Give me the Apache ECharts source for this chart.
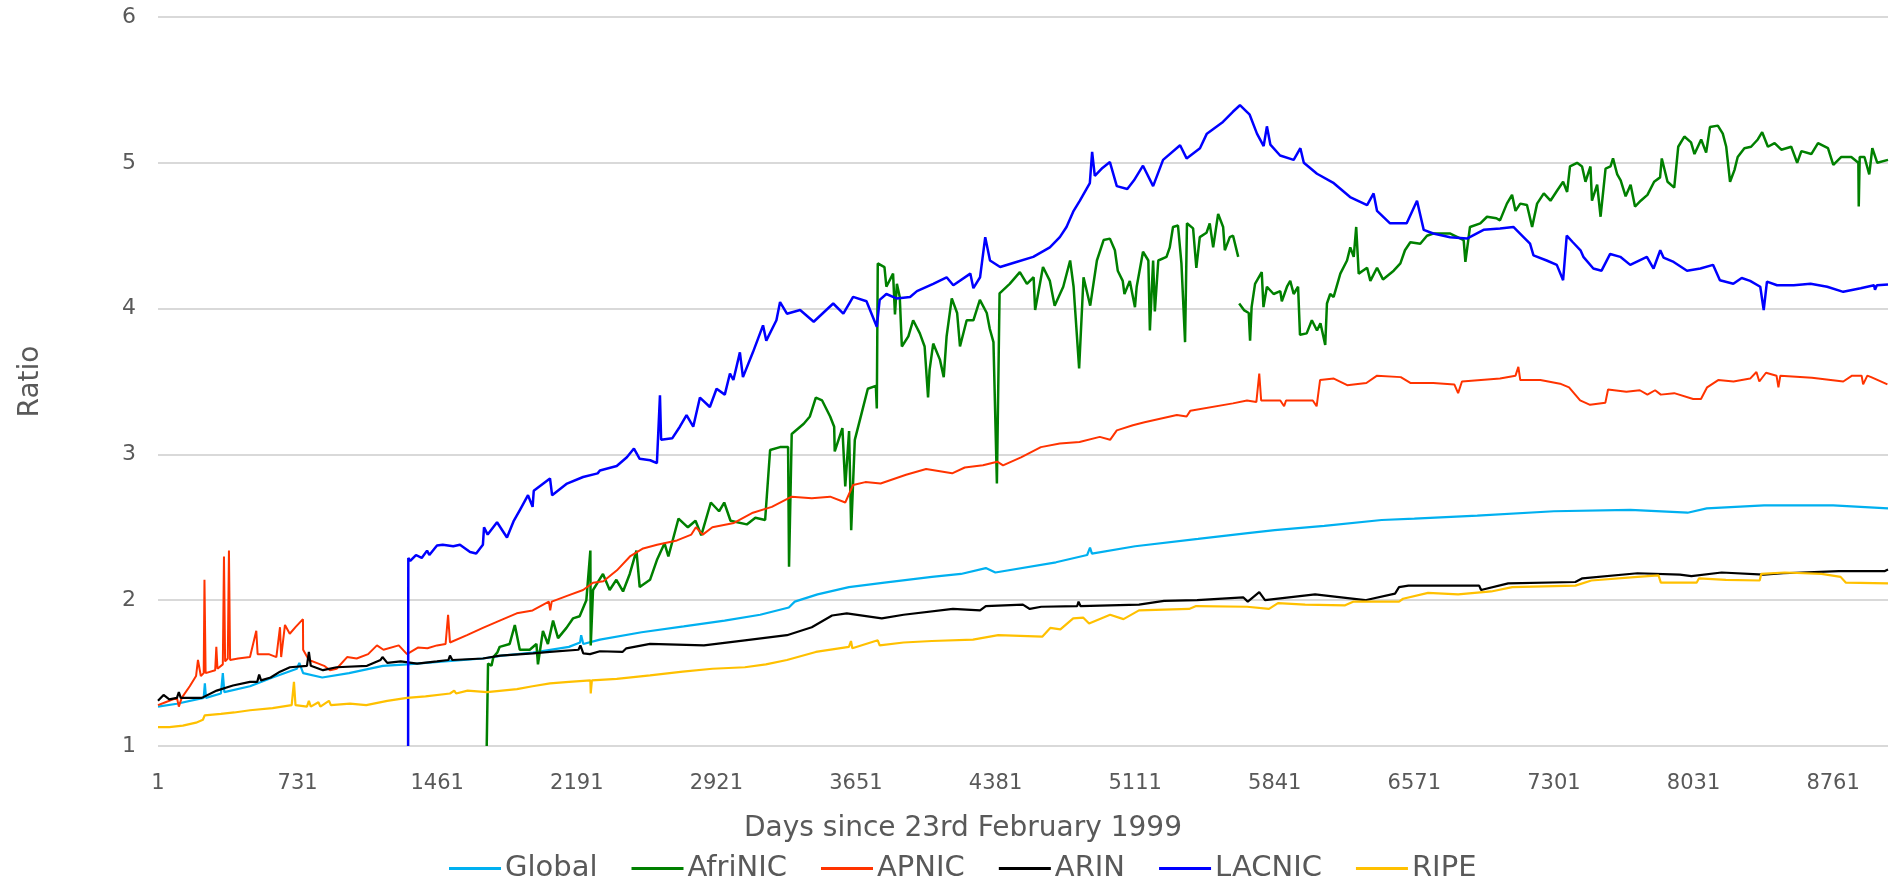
<!DOCTYPE html>
<html>
<head>
<meta charset="utf-8">
<script src="https://cdn.jsdelivr.net/npm/echarts@6/dist/echarts.min.js"></script>
<style>
  html, body { margin: 0; padding: 0; background: #fff; }
  #chart { width: 1895px; height: 888px; }
</style>
</head>
<body>
<div id="chart"></div>
<script>
// x ticks: every 730 days
const dayTicks = [1, 731, 1461, 2191, 2921, 3651, 4381, 5111, 5841, 6571, 7301, 8031, 8761]
const lastDay = 9048

// [day, ratio]
const globalData = [[1,1.27],[100,1.29],[240,1.33],[246,1.43],[252,1.33],[330,1.36],[340,1.50],[348,1.37],[482,1.41],[600,1.47],[727,1.53],[740,1.57],[760,1.50],[860,1.47],[1000,1.50],[1177,1.55],[1303,1.56],[1500,1.58],[1700,1.60],[1800,1.62],[1962,1.64],[2150,1.68],[2208,1.71],[2214,1.76],[2225,1.70],[2312,1.73],[2530,1.78],[2750,1.82],[2964,1.86],[3150,1.90],[3300,1.95],[3331,1.99],[3450,2.04],[3614,2.09],[3800,2.12],[4048,2.16],[4200,2.18],[4330,2.22],[4380,2.19],[4697,2.26],[4860,2.31],[4875,2.36],[4885,2.32],[5111,2.37],[5440,2.42],[5700,2.46],[5841,2.48],[6100,2.51],[6400,2.55],[6571,2.56],[6900,2.58],[7301,2.61],[7700,2.62],[8000,2.60],[8100,2.63],[8400,2.65],[8761,2.65],[9048,2.63]]

const afrinicData = [[1720,1.0],[1727,1.565],[1745,1.55],[1755,1.61],[1775,1.64],[1788,1.68],[1840,1.70],[1867,1.83],[1893,1.66],[1945,1.66],[1980,1.70],[1988,1.56],[2014,1.79],[2040,1.70],[2067,1.86],[2093,1.74],[2137,1.81],[2171,1.875],[2206,1.89],[2241,2.0],[2262,2.34],[2264,1.69],[2276,2.07],[2328,2.18],[2363,2.07],[2398,2.14],[2433,2.06],[2468,2.18],[2503,2.34],[2520,2.09],[2574,2.14],[2610,2.275],[2650,2.39],[2670,2.30],[2723,2.56],[2772,2.50],[2812,2.545],[2842,2.445],[2892,2.67],[2935,2.61],[2962,2.67],[2995,2.545],[3080,2.52],[3125,2.565],[3176,2.55],[3202,3.03],[3254,3.05],[3296,3.05],[3301,2.23],[3315,3.14],[3378,3.21],[3410,3.26],[3441,3.39],[3474,3.37],[3516,3.26],[3537,3.19],[3540,3.02],[3580,3.18],[3595,2.78],[3615,3.16],[3626,2.48],[3645,3.10],[3680,3.28],[3713,3.45],[3755,3.47],[3760,3.315],[3765,4.31],[3800,4.285],[3810,4.15],[3845,4.24],[3855,3.96],[3865,4.17],[3880,4.08],[3891,3.74],[3925,3.81],[3950,3.92],[3985,3.83],[4010,3.74],[4028,3.39],[4036,3.58],[4055,3.76],[4090,3.65],[4110,3.53],[4125,3.81],[4152,4.07],[4180,3.97],[4195,3.74],[4230,3.92],[4265,3.92],[4299,4.06],[4335,3.97],[4351,3.86],[4370,3.77],[4388,2.80],[4402,4.105],[4455,4.17],[4508,4.25],[4545,4.17],[4580,4.215],[4588,3.99],[4629,4.285],[4665,4.19],[4690,4.02],[4735,4.15],[4771,4.33],[4789,4.15],[4818,3.59],[4841,4.215],[4876,4.02],[4911,4.33],[4946,4.47],[4979,4.48],[5005,4.40],[5020,4.26],[5046,4.19],[5055,4.10],[5083,4.19],[5110,4.01],[5119,4.15],[5152,4.39],[5180,4.33],[5188,3.85],[5205,4.33],[5214,3.98],[5232,4.33],[5275,4.355],[5292,4.42],[5309,4.56],[5335,4.57],[5353,4.31],[5372,3.77],[5382,4.585],[5414,4.55],[5431,4.28],[5449,4.49],[5484,4.52],[5501,4.585],[5519,4.42],[5545,4.65],[5571,4.56],[5580,4.40],[5606,4.49],[5623,4.50],[5650,4.355],[5652,null],[5655,4.035],[5680,3.99],[5705,3.97],[5712,3.78],[5720,4.01],[5738,4.17],[5773,4.25],[5782,4.01],[5800,4.15],[5835,4.10],[5870,4.12],[5878,4.05],[5905,4.15],[5922,4.19],[5940,4.10],[5963,4.15],[5973,3.82],[6008,3.83],[6035,3.92],[6062,3.85],[6080,3.90],[6105,3.75],[6114,4.035],[6131,4.10],[6149,4.08],[6184,4.24],[6219,4.33],[6236,4.42],[6254,4.355],[6267,4.56],[6280,4.24],[6324,4.28],[6341,4.19],[6376,4.28],[6407,4.20],[6463,4.26],[6498,4.31],[6522,4.40],[6550,4.455],[6602,4.445],[6637,4.50],[6670,4.515],[6759,4.515],[6829,4.47],[6838,4.32],[6862,4.56],[6916,4.585],[6951,4.63],[7000,4.62],[7019,4.605],[7055,4.72],[7082,4.78],[7100,4.67],[7125,4.72],[7160,4.71],[7187,4.56],[7213,4.72],[7248,4.79],[7283,4.74],[7318,4.81],[7349,4.87],[7370,4.80],[7385,4.975],[7422,5.0],[7448,4.975],[7466,4.87],[7492,4.975],[7500,4.74],[7527,4.85],[7545,4.63],[7571,4.96],[7597,4.975],[7610,5.03],[7632,4.92],[7650,4.88],[7676,4.77],[7702,4.85],[7725,4.70],[7755,4.74],[7790,4.78],[7825,4.87],[7856,4.90],[7865,5.03],[7895,4.87],[7930,4.83],[7951,5.11],[7983,5.18],[8018,5.14],[8036,5.06],[8071,5.16],[8097,5.07],[8117,5.245],[8158,5.255],[8184,5.20],[8202,5.11],[8222,4.87],[8245,4.95],[8262,5.04],[8297,5.10],[8332,5.11],[8367,5.16],[8390,5.21],[8420,5.11],[8455,5.135],[8490,5.09],[8542,5.11],[8573,5.0],[8595,5.08],[8647,5.06],[8682,5.135],[8734,5.10],[8762,4.985],[8804,5.04],[8856,5.04],[8893,5.0],[8895,4.70],[8900,5.04],[8925,5.04],[8950,4.92],[8966,5.10],[8992,5.0],[9048,5.02]]

const apnicData = [[1,1.28],[40,1.30],[100,1.33],[110,1.27],[125,1.33],[167,1.41],[200,1.48],[210,1.59],[225,1.48],[240,1.50],[244,2.14],[250,1.50],[300,1.52],[306,1.68],[312,1.53],[340,1.56],[346,2.30],[352,1.58],[366,1.60],[372,2.34],[378,1.59],[420,1.60],[482,1.61],[515,1.79],[522,1.63],[580,1.63],[620,1.61],[639,1.815],[645,1.61],[665,1.83],[690,1.77],[720,1.815],[759,1.87],[760,1.66],[790,1.59],[830,1.57],[870,1.55],[900,1.52],[935,1.53],[990,1.61],[1040,1.60],[1100,1.63],[1146,1.69],[1180,1.66],[1260,1.69],[1303,1.63],[1360,1.675],[1410,1.67],[1460,1.69],[1505,1.70],[1518,1.90],[1528,1.71],[1617,1.76],[1700,1.81],[1788,1.86],[1877,1.91],[1960,1.93],[2045,1.99],[2052,1.93],[2060,1.99],[2140,2.03],[2224,2.07],[2276,2.12],[2330,2.13],[2401,2.205],[2469,2.30],[2538,2.355],[2611,2.38],[2715,2.41],[2790,2.45],[2814,2.50],[2850,2.45],[2900,2.50],[3013,2.53],[3112,2.60],[3211,2.64],[3315,2.71],[3420,2.70],[3516,2.71],[3595,2.67],[3636,2.79],[3700,2.81],[3780,2.80],[3913,2.86],[4018,2.90],[4154,2.87],[4220,2.91],[4315,2.925],[4390,2.95],[4420,2.925],[4514,2.98],[4618,3.05],[4717,3.075],[4820,3.085],[4926,3.12],[4980,3.10],[5015,3.165],[5099,3.20],[5160,3.22],[5329,3.27],[5380,3.26],[5400,3.30],[5622,3.35],[5696,3.37],[5745,3.36],[5760,3.555],[5770,3.37],[5870,3.37],[5890,3.33],[5900,3.37],[6040,3.37],[6060,3.33],[6078,3.51],[6150,3.52],[6220,3.475],[6320,3.49],[6376,3.54],[6500,3.53],[6550,3.49],[6670,3.49],[6780,3.48],[6800,3.42],[6820,3.50],[7019,3.52],[7100,3.54],[7115,3.60],[7125,3.51],[7230,3.51],[7333,3.485],[7380,3.46],[7438,3.37],[7490,3.34],[7570,3.355],[7584,3.445],[7680,3.43],[7750,3.44],[7790,3.41],[7830,3.44],[7860,3.41],[7930,3.42],[8029,3.38],[8070,3.38],[8102,3.46],[8160,3.51],[8240,3.50],[8327,3.52],[8360,3.565],[8375,3.50],[8410,3.56],[8465,3.54],[8475,3.46],[8485,3.54],[8650,3.525],[8814,3.50],[8860,3.54],[8910,3.54],[8918,3.48],[8940,3.54],[8960,3.53],[9045,3.48]]

const arinData = [[1,1.31],[30,1.35],[60,1.32],[100,1.33],[110,1.37],[120,1.33],[230,1.33],[308,1.38],[393,1.415],[482,1.44],[520,1.44],[530,1.49],[540,1.45],[590,1.47],[639,1.51],[691,1.54],[780,1.55],[790,1.645],[800,1.55],[864,1.52],[935,1.54],[1094,1.55],[1165,1.59],[1175,1.61],[1200,1.57],[1270,1.58],[1356,1.565],[1460,1.58],[1520,1.59],[1528,1.62],[1540,1.59],[1700,1.60],[1790,1.62],[1962,1.635],[2050,1.645],[2200,1.66],[2210,1.69],[2225,1.635],[2260,1.63],[2312,1.65],[2430,1.645],[2450,1.67],[2574,1.70],[2856,1.69],[3070,1.725],[3290,1.76],[3420,1.815],[3526,1.895],[3603,1.91],[3786,1.875],[3900,1.90],[4158,1.94],[4300,1.93],[4330,1.96],[4524,1.97],[4560,1.94],[4620,1.955],[4808,1.96],[4815,1.99],[4825,1.96],[5131,1.97],[5262,1.995],[5435,2.00],[5676,2.02],[5700,1.99],[5760,2.055],[5790,2.00],[6052,2.04],[6314,2.00],[6470,2.045],[6491,2.09],[6540,2.10],[6910,2.10],[6920,2.07],[7062,2.115],[7413,2.125],[7450,2.15],[7738,2.185],[7960,2.175],[8020,2.165],[8178,2.19],[8398,2.175],[8500,2.185],[8791,2.20],[9032,2.20],[9048,2.21]]

const lacnicData = [[1309,1.0],[1310,2.29],[1320,2.27],[1350,2.31],[1380,2.29],[1408,2.34],[1420,2.31],[1460,2.375],[1490,2.38],[1545,2.37],[1580,2.38],[1633,2.33],[1665,2.32],[1700,2.38],[1706,2.50],[1725,2.45],[1774,2.535],[1826,2.43],[1860,2.54],[1894,2.62],[1936,2.72],[1960,2.64],[1966,2.75],[2051,2.835],[2062,2.72],[2140,2.80],[2224,2.845],[2300,2.87],[2312,2.89],[2400,2.92],[2453,2.98],[2490,3.04],[2520,2.97],[2575,2.96],[2610,2.94],[2626,3.405],[2632,3.10],[2690,3.11],[2730,3.19],[2765,3.27],[2800,3.19],[2835,3.39],[2887,3.325],[2922,3.45],[2965,3.41],[2992,3.555],[3010,3.51],[3044,3.70],[3060,3.53],[3112,3.70],[3165,3.885],[3182,3.78],[3235,3.92],[3254,4.045],[3290,3.965],[3359,3.99],[3430,3.91],[3532,4.035],[3585,3.965],[3636,4.08],[3706,4.05],[3760,3.875],[3775,4.06],[3810,4.10],[3863,4.07],[3934,4.08],[3970,4.12],[4055,4.17],[4125,4.215],[4160,4.16],[4249,4.24],[4265,4.14],[4300,4.215],[4327,4.49],[4352,4.33],[4405,4.285],[4490,4.32],[4578,4.355],[4665,4.42],[4717,4.49],[4752,4.56],[4787,4.665],[4822,4.74],[4874,4.86],[4886,5.075],[4900,4.91],[4940,4.965],[4979,5.005],[5015,4.84],[5070,4.82],[5105,4.88],[5152,4.98],[5205,4.84],[5257,5.02],[5346,5.12],[5380,5.03],[5450,5.10],[5486,5.20],[5570,5.28],[5622,5.35],[5659,5.395],[5710,5.33],[5748,5.20],[5783,5.115],[5800,5.25],[5818,5.125],[5869,5.05],[5940,5.02],[5975,5.10],[5993,5.0],[6062,4.925],[6150,4.86],[6235,4.765],[6324,4.71],[6358,4.79],[6376,4.67],[6444,4.585],[6531,4.585],[6585,4.74],[6620,4.54],[6670,4.515],[6758,4.49],[6846,4.48],[6933,4.54],[7019,4.55],[7089,4.56],[7142,4.49],[7176,4.445],[7194,4.365],[7263,4.33],[7316,4.30],[7349,4.195],[7368,4.50],[7400,4.455],[7440,4.40],[7455,4.355],[7507,4.275],[7550,4.26],[7595,4.375],[7648,4.355],[7700,4.30],[7787,4.355],[7822,4.275],[7857,4.40],[7874,4.35],[7927,4.32],[7997,4.26],[8067,4.275],[8133,4.30],[8169,4.195],[8239,4.17],[8283,4.21],[8327,4.19],[8380,4.15],[8398,3.99],[8415,4.185],[8468,4.16],[8555,4.16],[8643,4.17],[8730,4.15],[8814,4.115],[8905,4.14],[8975,4.16],[8980,4.13],[8990,4.16],[9048,4.165]]

const ripeData = [[1,1.13],[60,1.13],[131,1.14],[200,1.16],[236,1.18],[245,1.21],[330,1.22],[400,1.23],[482,1.245],[600,1.26],[700,1.28],[712,1.44],[720,1.28],[780,1.27],[790,1.31],[800,1.27],[840,1.30],[850,1.27],[895,1.31],[905,1.28],[1005,1.29],[1090,1.28],[1200,1.31],[1303,1.33],[1400,1.34],[1528,1.36],[1550,1.38],[1560,1.36],[1620,1.38],[1721,1.37],[1800,1.38],[1878,1.39],[1960,1.41],[2051,1.43],[2150,1.44],[2262,1.45],[2264,1.36],[2270,1.45],[2400,1.46],[2574,1.485],[2745,1.51],[2900,1.53],[3070,1.54],[3180,1.56],[3290,1.59],[3441,1.645],[3614,1.68],[3625,1.72],[3632,1.67],[3765,1.725],[3775,1.69],[3900,1.71],[4048,1.72],[4263,1.73],[4395,1.76],[4625,1.75],[4667,1.81],[4720,1.80],[4787,1.875],[4840,1.88],[4870,1.84],[4980,1.90],[5050,1.87],[5131,1.93],[5393,1.94],[5430,1.96],[5697,1.955],[5811,1.94],[5858,1.98],[6000,1.97],[6209,1.965],[6251,1.99],[6491,1.99],[6512,2.01],[6643,2.05],[6800,2.04],[6973,2.06],[7083,2.09],[7413,2.10],[7497,2.135],[7738,2.16],[7848,2.17],[7860,2.12],[8047,2.12],[8060,2.15],[8200,2.14],[8377,2.135],[8385,2.18],[8508,2.19],[8700,2.18],[8800,2.16],[8828,2.12],[9048,2.115]]

const seriesNames = ['Global', 'AfriNIC', 'APNIC', 'ARIN', 'LACNIC', 'RIPE']
const seriesColors = ['#00b0f0', '#008000', '#ff3300', '#000000', '#0000ff', '#ffc000']
const seriesWidths = [2.2, 2.5, 2, 2.2, 2.5, 2.2]
const seriesData = [globalData, afrinicData, apnicData, arinData, lacnicData, ripeData]

const chart = echarts.init(document.getElementById('chart'))

const option = {
  animation: false,
  textStyle: { fontFamily: 'DejaVu Sans' },
  grid: { left: 158, right: 7, top: 17, bottom: 142 },
  legend: {
    data: seriesNames,
    left: 444,
    bottom: 0,
    icon: 'rect',
    itemWidth: 52,
    itemHeight: 3,
    itemGap: 34,
    textStyle: { fontSize: 29, color: '#595959', padding: [0, 0, 0, -1] }
  },
  xAxis: {
    type: 'value',
    min: 1,
    max: lastDay,
    name: 'Days since 23rd February 1999',
    nameLocation: 'middle',
    nameGap: 69,
    nameTextStyle: { fontSize: 28, color: '#595959', padding: [0, 120, 0, 0] },
    axisLine: { show: false },
    axisTick: { show: false },
    splitLine: { show: false },
    axisLabel: {
      customValues: dayTicks,
      formatter: (v) => String(v),
      fontSize: 21,
      color: '#595959',
      margin: 27
    }
  },
  yAxis: {
    type: 'value',
    min: 1,
    max: 6,
    interval: 1,
    name: 'Ratio',
    nameLocation: 'middle',
    nameGap: 113,
    nameTextStyle: { fontSize: 28, color: '#595959' },
    axisLine: { show: false },
    axisTick: { show: false },
    axisLabel: { fontSize: 22, color: '#595959', margin: 22 },
    splitLine: { lineStyle: { color: '#d9d9d9', width: 2 } }
  },
  series: seriesNames.map((name, i) => ({
    name,
    type: 'line',
    data: seriesData[i],
    showSymbol: false,
    connectNulls: false,
    color: seriesColors[i],
    lineStyle: { width: seriesWidths[i], color: seriesColors[i] }
  }))
}

chart.setOption(option)
</script>
</body>
</html>
